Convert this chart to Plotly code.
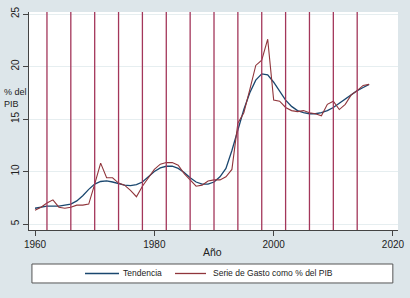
import plotly.graph_objects as go

years = list(range(1960, 2017))
serie = [6.3, 6.6, 7.0, 7.3, 6.6, 6.5, 6.6, 6.8, 6.8, 6.9,
         8.8, 10.8, 9.4, 9.4, 8.9, 8.7, 8.2, 7.6, 8.6, 9.4,
         10.2, 10.7, 10.85, 10.85, 10.6, 9.8, 9.2, 8.6, 8.7, 9.1,
         9.2, 9.2, 9.5, 10.2, 14.6, 15.6, 17.8, 20.1, 20.6, 22.6,
         16.8, 16.7, 16.1, 15.8, 15.7, 15.8, 15.6, 15.5, 15.3, 16.4,
         16.7, 15.9, 16.4, 17.3, 17.7, 18.2, 18.3]
tendencia = [6.5, 6.6, 6.7, 6.7, 6.7, 6.8, 6.9, 7.2, 7.7, 8.3,
             8.8, 9.05, 9.1, 9.0, 8.85, 8.7, 8.65, 8.75, 9.0, 9.5,
             10.0, 10.35, 10.5, 10.5, 10.3, 9.9, 9.4, 9.0, 8.8, 8.8,
             9.0, 9.5, 10.3, 12.0, 14.0, 15.9, 17.5, 18.7, 19.3, 19.2,
             18.5, 17.6, 16.8, 16.2, 15.8, 15.6, 15.5, 15.5, 15.6, 15.8,
             16.1, 16.5, 16.9, 17.3, 17.7, 18.0, 18.3]
vlines = list(range(1962, 2015, 4))
x_ticks = [1960, 1980, 2000, 2020]
y_ticks = [5, 10, 15, 20, 25]
legend_names = ["Tendencia", "Serie de Gasto como % del PIB"]

NAVY = "#1a476f"
MAROON = "#90353b"
VLINE = "#a3365a"
BG = "#dde6ea"
TXT = "#222222"

fig = go.Figure()
fig.add_trace(go.Scatter(x=years, y=tendencia, mode="lines", name=legend_names[0],
                         line=dict(color=NAVY, width=1.3)))
fig.add_trace(go.Scatter(x=years, y=serie, mode="lines", name=legend_names[1],
                         line=dict(color=MAROON, width=1.1)))

for v in vlines:
    fig.add_shape(type="line", xref="x", yref="paper", x0=v, x1=v, y0=0, y1=1,
                  line=dict(color=VLINE, width=1.3), layer="above")

# legend box (drawn manually)
fig.add_shape(type="rect", xref="paper", yref="paper", x0=0.008, x1=0.986,
              y0=-0.243, y1=-0.156, line=dict(color="#555555", width=1),
              fillcolor="white", layer="below")
ly = -0.1995
for (x0, x1, xt), name, col in zip([(0.1518, 0.2439, 0.2493), (0.3957, 0.4797, 0.4932)],
                                   legend_names, [NAVY, MAROON]):
    fig.add_shape(type="line", xref="paper", yref="paper", x0=x0, x1=x1, y0=ly, y1=ly,
                  line=dict(color=col, width=1.3))
    fig.add_annotation(text=name, xref="paper", yref="paper", x=xt, y=ly,
                       xanchor="left", yanchor="middle", showarrow=False,
                       font=dict(size=8.5, color=TXT))

fig.add_annotation(text="% del<br>PIB", xref="paper", yref="paper",
                   x=-0.072, y=0.605, xanchor="left", yanchor="middle", showarrow=False,
                   align="left", font=dict(size=9, color=TXT))
fig.add_annotation(text="Año", xref="paper", yref="paper",
                   x=0.497, y=-0.101, xanchor="center", yanchor="middle", showarrow=False,
                   font=dict(size=10.5, color=TXT))

fig.update_layout(
    width=410, height=298,
    margin=dict(l=29, r=12, t=12, b=68, autoexpand=False),
    paper_bgcolor=BG, plot_bgcolor="white",
    font=dict(family="Liberation Sans, Arial, sans-serif", color=TXT),
    showlegend=False,
    xaxis=dict(range=[1958.99, 2020.84], tickvals=x_ticks, ticks="outside", ticklen=5,
               tickcolor="#444444", showline=True, linecolor="#444444", linewidth=1,
               showgrid=False, zeroline=False, tickfont=dict(size=10), automargin=False),
    yaxis=dict(range=[4.43, 25.19], tickvals=y_ticks, ticks="outside", ticklen=5,
               tickcolor="#444444", showline=True, linecolor="#444444", linewidth=1,
               showgrid=True, gridcolor="#e6eef0", gridwidth=1, zeroline=False,
               tickangle=-90, tickfont=dict(size=10), automargin=False),
)

fig.write_html("out.html", config={"displayModeBar": False},
               post_script="document.body.style.margin='0';document.body.style.overflow='hidden';")
